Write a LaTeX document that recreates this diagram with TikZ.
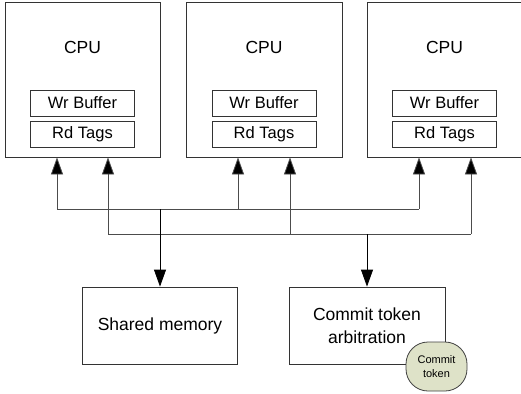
\documentclass[tikz,border=0pt]{standalone}
\usepackage{fontspec}
\setmainfont{Liberation Sans}
\usetikzlibrary{arrows.meta}
\begin{document}
\begin{tikzpicture}[x=1pt,y=-1pt,
  box/.style={draw=black!80, line width=0.8pt, inner sep=0pt, fill=white},
  cpubox/.style={box, minimum width=155pt, minimum height=155pt},
  smallbox/.style={box, minimum width=104pt, minimum height=26pt, font=\fontsize{16.5}{18}\selectfont},
  membox/.style={box, minimum width=155pt, minimum height=77pt, align=center, font=\fontsize{17.5}{23}\selectfont},
  token/.style={draw=black!75, line width=0.8pt, fill=olivebg, rounded corners=22pt, minimum width=61pt, minimum height=49pt, inner sep=0pt, align=center, font=\fontsize{11}{14}\selectfont},
  lbl/.style={font=\fontsize{17.5}{20}\selectfont},
  bus/.style={draw=black!70, line width=0.8pt},
  tip/.style={-{Triangle[length=17pt 0,width=12pt 0,fill=black]}},
  arr/.style={bus, tip},
  darr/.style={draw=black, line width=0.8pt, tip}
]
\definecolor{olivebg}{HTML}{DEE2C8}
\useasboundingbox (0,0) rectangle (521,393);

% CPUs
\node[cpubox] (cpu1) at (82.5,79.5) {};
\node[cpubox, minimum width=156pt] (cpu2) at (264,79.5) {};
\node[cpubox] (cpu3) at (444.5,79.5) {};
\foreach \c/\x in {1/82.5,2/264,3/444.5}{
  \node[lbl] (cpul\c) at (\x,47) {CPU};
  \node[smallbox] (wr\c) at (\x,103) {Wr Buffer};
  \node[smallbox] (rd\c) at (\x,134) {Rd Tags};
}

% bottom boxes
\node[membox] (mem) at (160,325.5) {Shared memory};
\node[membox, minimum width=156pt] (arb) at (367,325.5) {Commit token\\arbitration};
\node[token] (tok) at (436.5,366.5) {Commit\\token};

% bus junction coordinates
\coordinate (a1) at (57,209);
\coordinate (a2) at (238,209);
\coordinate (a3) at (419,209);
\coordinate (b1) at (108,234);
\coordinate (b2) at (290,234);
\coordinate (b3) at (471,234);
\coordinate (am) at (160,209);
\coordinate (bm) at (367,234);

\draw[bus] (a1) -- (a3);
\draw[bus] (b1) -- (b3);
\foreach \p in {a1,a2,a3,b1,b2,b3}{
  \draw[arr] (\p) -- (\p |- cpu1.south);
}
\draw[darr] (am) -- (mem.north);
\draw[darr] (bm) -- (arb.north);
\end{tikzpicture}
\end{document}
